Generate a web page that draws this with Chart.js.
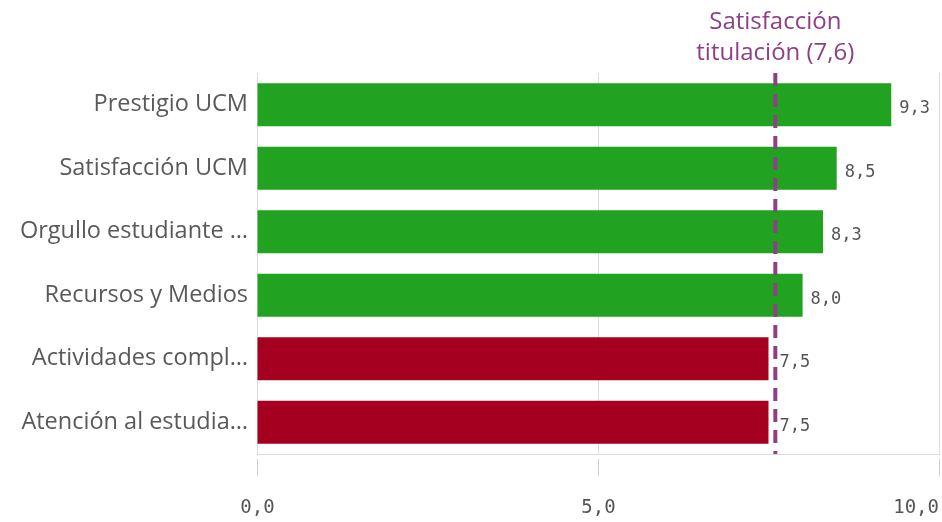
<!DOCTYPE html>
<html>
<head>
<meta charset="utf-8">
<script src="https://cdn.jsdelivr.net/npm/chart.js@4"></script>
<style>
  html, body { margin: 0; padding: 0; background: #fff; }
  #wrap { width: 942px; height: 522px; }
</style>
</head>
<body>
<div id="wrap"><canvas id="chart" width="942" height="522"></canvas></div>
<script>
// datos
const categorias = ['Prestigio UCM', 'Satisfacción UCM', 'Orgullo estudiante …', 'Recursos y Medios', 'Actividades compl…', 'Atención al estudia…'];
const valores = [9.3, 8.5, 8.3, 8.0, 7.5, 7.5];
const referencia = 7.6;
const etiquetaReferencia = ['Satisfacción', 'titulación (7,6)'];
const ticksX = [0, 5, 10];

const VERDE = '#21a221';
const ROJO = '#a5001f';
const MORADO = '#8e3f88';

const coma = (v) => v.toFixed(1).replace('.', ',');

// Plugin para la línea de referencia, valores y ticks del eje X
const extras = {
  id: 'extras',
  afterDatasetsDraw(chart) {
    const ctx = chart.ctx;
    const x = chart.scales.x;
    const area = chart.chartArea;

    // valores al final de cada barra
    const meta = chart.getDatasetMeta(0);
    ctx.save();
    ctx.fillStyle = '#555';
    ctx.font = '17px "DejaVu Sans Mono"';
    ctx.textAlign = 'left';
    ctx.textBaseline = 'middle';
    meta.data.forEach((bar, i) => {
      const off = valores[i] < referencia ? 11 : 8;
      ctx.fillText(coma(valores[i]), bar.x + off, bar.y + 4);
    });
    ctx.restore();

    // línea de referencia
    const rx = x.getPixelForValue(referencia);
    ctx.save();
    ctx.strokeStyle = MORADO;
    ctx.lineWidth = 4;
    ctx.setLineDash([13, 8]);
    ctx.beginPath();
    ctx.moveTo(rx, area.top);
    ctx.lineTo(rx, area.bottom);
    ctx.stroke();
    ctx.setLineDash([]);
    ctx.fillStyle = MORADO;
    ctx.font = '24px "Open Sans"';
    ctx.textAlign = 'center';
    ctx.textBaseline = 'middle';
    ctx.fillText(etiquetaReferencia[0], rx, 22);
    ctx.fillText(etiquetaReferencia[1], rx, 53);
    ctx.restore();

    // marcas y etiquetas del eje X
    ctx.save();
    ctx.strokeStyle = '#d0d0d0';
    ctx.lineWidth = 1;
    ctx.fillStyle = '#555';
    ctx.font = '19px "DejaVu Sans Mono"';
    ctx.textBaseline = 'middle';
    ticksX.forEach((t, i) => {
      const px = Math.round(x.getPixelForValue(t)) + 0.5;
      ctx.beginPath();
      ctx.moveTo(px, area.bottom + 5);
      ctx.lineTo(px, area.bottom + 22);
      ctx.stroke();
      const ultimo = i === ticksX.length - 1;
      ctx.textAlign = ultimo ? 'right' : 'center';
      ctx.fillText(coma(t), ultimo ? chart.width - 3 : px, 508);
    });
    ctx.restore();
  }
};

new Chart(document.getElementById('chart'), {
  type: 'bar',
  data: {
    labels: categorias,
    datasets: [{
      data: valores,
      backgroundColor: valores.map(v => v >= referencia ? VERDE : ROJO),
      barPercentage: 0.68,
      categoryPercentage: 1
    }]
  },
  options: {
    indexAxis: 'y',
    responsive: false,
    animation: false,
    layout: { padding: { top: 73, bottom: 68, right: 3, left: 0 } },
    plugins: {
      legend: { display: false },
      tooltip: { enabled: false }
    },
    scales: {
      x: {
        min: 0,
        max: 10,
        afterBuildTicks: (s) => { s.ticks = ticksX.map(v => ({ value: v })); },
        afterFit: (s) => { s.height = 0; s.paddingLeft = 0; s.paddingRight = 0; },
        ticks: { display: false },
        grid: { color: '#dcdcdc', drawTicks: false, lineWidth: 1 },
        border: { display: true, color: '#dcdcdc' }
      },
      y: {
        afterFit: (s) => { s.width = 257; },
        grid: { display: false, drawTicks: false },
        border: { display: true, color: '#dcdcdc' },
        ticks: {
          color: '#595959',
          padding: 9,
          font: { family: 'Open Sans', size: 23.5 }
        }
      }
    }
  },
  plugins: [extras]
});
</script>
</body>
</html>
